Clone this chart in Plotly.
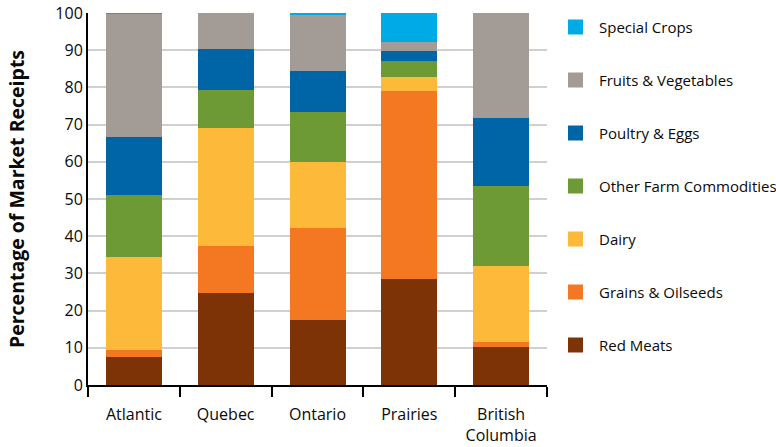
import plotly.graph_objects as go

regions = ["Atlantic", "Quebec", "Ontario", "Prairies", "British<br>Columbia"]
red_meats = [7.5, 24.8, 17.5, 28.5, 10.2]
grains_oilseeds = [2.0, 12.6, 24.8, 50.4, 1.4]
dairy = [24.8, 31.6, 17.7, 4.0, 20.4]
other_farm = [16.8, 10.2, 13.5, 4.3, 21.6]
poultry_eggs = [15.7, 11.0, 10.8, 2.7, 18.3]
fruits_veg = [33.0, 9.8, 15.1, 2.4, 28.1]
special_crops = [0.2, 0.0, 0.6, 7.7, 0.0]

series = [
    ("Red Meats", red_meats, "#7E3306"),
    ("Grains & Oilseeds", grains_oilseeds, "#F47721"),
    ("Dairy", dairy, "#FDB93A"),
    ("Other Farm Commodities", other_farm, "#6E9A35"),
    ("Poultry & Eggs", poultry_eggs, "#0065A6"),
    ("Fruits & Vegetables", fruits_veg, "#A39B96"),
    ("Special Crops", special_crops, "#00AAE7"),
]

W, H = 776, 447
ML, MR, MT, MB = 88, 229, 13, 62
PW, PH = W - ML - MR, H - MT - MB

fig = go.Figure()
for name, vals, color in series:
    fig.add_trace(go.Bar(
        x=regions, y=vals, name=name, showlegend=False,
        marker=dict(color=color, line=dict(width=0)),
    ))

def px_x(px):
    return (px - ML) / PW

def px_y(py):
    return (H - MB - py) / PH

font = "Open Sans, Noto Sans, sans-serif"
txt = "#0a0a0a"
# custom legend (top item = last series)
for k, (name, vals, color) in enumerate(reversed(series)):
    cy = 27 + 53 * k
    fig.add_shape(type="rect", xref="paper", yref="paper",
                  x0=px_x(568), x1=px_x(583), y0=px_y(cy + 7.5), y1=px_y(cy - 7.5),
                  fillcolor=color, line=dict(width=0))
    fig.add_annotation(xref="paper", yref="paper", x=px_x(597), y=px_y(cy),
                       xanchor="left", yanchor="middle", text=name, showarrow=False,
                       font=dict(size=15, color=txt, family=font))

fig.update_layout(
    width=W, height=H,
    barmode="stack", bargap=0.39,
    plot_bgcolor="white", paper_bgcolor="white",
    margin=dict(l=ML, r=MR, t=MT, b=MB, autoexpand=False),
    font=dict(family=font, size=15, color=txt),
    showlegend=False,
    xaxis=dict(
        showline=True, linecolor="black", linewidth=2,
        ticks="outside", tickson="boundaries", ticklen=10, tickwidth=2,
        tickcolor="black", showgrid=False, automargin=False,
        tickfont=dict(size=16, color=txt), ticklabelstandoff=14,
    ),
    yaxis=dict(
        range=[0, 100], dtick=10, showline=True, linecolor="black", linewidth=2,
        showgrid=True, gridcolor="#D0D0D0", gridwidth=2, automargin=False,
        ticks="", tickfont=dict(size=16, color=txt),
        title=dict(text="<b>Percentage of Market Receipts</b>", font=dict(size=19.5, color=txt), standoff=26),
        zeroline=False,
    ),
)

fig.write_html("out.html")
